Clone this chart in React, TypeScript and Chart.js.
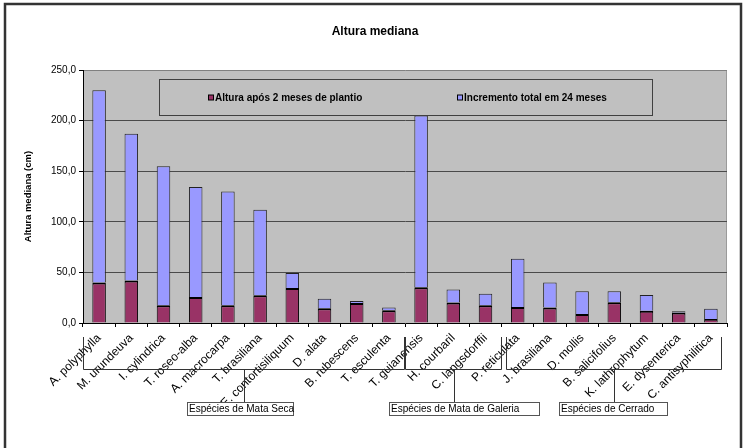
import React, { useEffect, useRef } from "react";
import { Chart, registerables } from "chart.js";

Chart.register(...registerables);

const TITLE = "Altura mediana";
const Y_TITLE = "Altura mediana (cm)";

const categories = [
  "A. polyphylla",
  "M. urundeuva",
  "I. cylindrica",
  "T. roseo-alba",
  "A. macrocarpa",
  "T. brasiliana",
  "E. contortisiliquum",
  "D. alata",
  "B. rubescens",
  "T. esculenta",
  "T. guianensis",
  "H. courbaril",
  "C. langsdorffii",
  "P. reticulata",
  "J. brasiliana",
  "D. mollis",
  "B. salicifolius",
  "K. lathrophytum",
  "E. dysenterica",
  "C. antisyphilitica",
];

const alturaInicial = [40, 42, 17.5, 25.7, 17.5, 27.4, 34.6, 14.5, 19.8, 12.6, 35.3, 20.2, 17.5, 15.9, 15.2, 8.9, 20.5, 12.2, 10.3, 4];
const incremento = [190, 145, 137.5, 108.8, 112.5, 84.6, 14.9, 9.5, 2, 2.6, 169.7, 12.8, 11.5, 47.7, 24.8, 22.5, 10.9, 15.5, 1.3, 10];

const seriesNames = ["Altura após 2 meses de plantio", "Incremento total em 24 meses"];
const yMin = 0;
const yMax = 250;
const yStep = 50;

const groupNames = ["Espécies de Mata Seca", "Espécies de Mata de Galeria", "Espécies de Cerrado"];
const groupFirst = [0, 10, 13];
const groupLast = [9, 12, 19];

const FONT = 'Arial, "Liberation Sans", sans-serif';
const RED = "#993366";
const BLUE = "#9999FF";
const GROUP_BOX_W = [106, 150, 108];
const GROUP_BOX_OFF = [58, 66, 56];

const plotBg = {
  id: "plotBg",
  beforeDraw(chart: any) {
    const { ctx, chartArea: a } = chart;
    ctx.save();
    ctx.fillStyle = "#ffffff";
    ctx.fillRect(0, 0, chart.width, chart.height);
    ctx.fillStyle = "#C0C0C0";
    ctx.fillRect(a.left, a.top, a.right - a.left, a.bottom - a.top);
    ctx.strokeStyle = "#9a9a9a";
    ctx.lineWidth = 1;
    ctx.beginPath();
    ctx.moveTo(a.right - 0.5, a.top);
    ctx.lineTo(a.right - 0.5, a.bottom);
    ctx.stroke();
    ctx.restore();
  },
};

const customDecor = {
  id: "customDecor",
  afterDatasetsDraw(chart: any) {
    const { ctx, chartArea: a } = chart;
    ctx.save();
    // legend box inside plot
    const bx = a.left + 76.5;
    const by = a.top + 9.5;
    const bw = 493;
    const bh = 36;
    ctx.fillStyle = "#C0C0C0";
    ctx.fillRect(bx, by, bw, bh);
    ctx.strokeStyle = "#404040";
    ctx.lineWidth = 1;
    ctx.strokeRect(bx, by, bw, bh);
    const items = [
      { mx: a.left + 125, tx: a.left + 132 },
      { mx: a.left + 374, tx: a.left + 381 },
    ];
    const cy = by + bh / 2;
    ctx.font = "bold 10px " + FONT;
    ctx.textBaseline = "middle";
    ctx.textAlign = "left";
    chart.data.datasets.forEach((ds: any, i: number) => {
      const it = items[i];
      ctx.fillStyle = ds.backgroundColor;
      ctx.fillRect(it.mx, cy - 2.5, 5, 5);
      ctx.strokeStyle = "#000";
      ctx.strokeRect(it.mx + 0.5, cy - 2.5, 5, 5);
      ctx.fillStyle = "#000";
      ctx.fillText(ds.label, it.tx, cy + 0.5);
    });
    ctx.restore();
  },
  afterDraw(chart: any) {
    const { ctx, chartArea: a, scales } = chart;
    const xs = scales.x;
    ctx.save();
    // title
    ctx.fillStyle = "#000";
    ctx.font = "bold 12px " + FONT;
    ctx.textAlign = "center";
    ctx.textBaseline = "middle";
    ctx.fillText(TITLE, 375, 32);

    // group brackets
    const half = (xs.getPixelForValue(1) - xs.getPixelForValue(0)) / 2;
    const yTop = a.bottom + 14;
    const yH = a.bottom + 46;
    const yBox = a.bottom + 79.5;
    ctx.lineWidth = 1;
    ctx.strokeStyle = "#333";
    ctx.font = "10px " + FONT;
    groupNames.forEach((name, g) => {
      let L = xs.getPixelForValue(groupFirst[g]) - half;
      let R = xs.getPixelForValue(groupLast[g]) + half;
      if (g === 2) {
        L += 4;
        R -= 5;
      }
      L = Math.round(L) + 0.5;
      R = Math.round(R) - 0.5;
      ctx.beginPath();
      ctx.moveTo(L, yTop);
      ctx.lineTo(L, yH + 0.5);
      ctx.lineTo(R, yH + 0.5);
      ctx.lineTo(R, yTop);
      ctx.stroke();
      const c = Math.round((L + R) / 2) + 0.5;
      ctx.beginPath();
      ctx.moveTo(c, yH);
      ctx.lineTo(c, yBox);
      ctx.stroke();
      const w = GROUP_BOX_W[g];
      const bx = Math.round(c - GROUP_BOX_OFF[g]) + 0.5;
      ctx.fillStyle = "#fff";
      ctx.fillRect(bx, yBox, w, 13);
      ctx.strokeStyle = "#555";
      ctx.strokeRect(bx, yBox, w, 13);
      ctx.strokeStyle = "#333";
      ctx.fillStyle = "#000";
      ctx.textAlign = "left";
      ctx.textBaseline = "middle";
      ctx.fillText(name, bx + 1.5, yBox + 7);
    });

    // outer frame
    ctx.strokeStyle = "#333";
    ctx.lineWidth = 2.5;
    ctx.beginPath();
    ctx.moveTo(5, chart.height);
    ctx.lineTo(5, 4);
    ctx.lineTo(741, 4);
    ctx.lineTo(741, chart.height);
    ctx.stroke();
    ctx.restore();
  },
};

export default function App() {
  const ref = useRef<HTMLCanvasElement | null>(null);

  useEffect(() => {
    if (!ref.current) return;
    const chart = new Chart(ref.current, {
      type: "bar",
      data: {
        labels: categories,
        datasets: [
          {
            label: seriesNames[0],
            data: alturaInicial,
            backgroundColor: RED,
            borderColor: "#000",
            borderWidth: { top: 2, left: 1, right: 1, bottom: 0 },
            borderSkipped: false,
            categoryPercentage: 1,
            barPercentage: 0.42,
          },
          {
            label: seriesNames[1],
            data: incremento,
            backgroundColor: BLUE,
            borderColor: "#222",
            borderWidth: { top: 1, left: 1, right: 1, bottom: 0 },
            borderSkipped: false,
            categoryPercentage: 1,
            barPercentage: 0.42,
          },
        ],
      },
      options: {
        responsive: false,
        animation: false,
        layout: { padding: { top: 70, right: 18, left: 0, bottom: 0 } },
        plugins: {
          legend: { display: false },
          title: { display: false },
          tooltip: { enabled: false },
        },
        scales: {
          x: {
            stacked: true,
            afterFit: (s: any) => {
              s.height = 125;
            },
            grid: {
              display: true,
              drawOnChartArea: false,
              drawTicks: true,
              tickLength: 4,
              color: "#000",
              tickColor: "#000",
              offset: true,
            },
            border: { display: true, color: "#000", width: 1 },
            ticks: {
              autoSkip: false,
              maxRotation: 45,
              minRotation: 45,
              padding: 4,
              color: "#000",
              font: { family: FONT, size: 12 },
            },
          },
          y: {
            stacked: true,
            min: yMin,
            max: yMax,
            afterFit: (s: any) => {
              s.width = 83;
            },
            grid: {
              color: (c: any) =>
                c.tick && c.tick.value === yMax ? "#808080" : c.tick && c.tick.value === yMin ? "rgba(0,0,0,0)" : "#4a4a4a",
              tickColor: "#000",
              tickLength: 4,
              lineWidth: 1,
            },
            border: { display: true, color: "#000", width: 1 },
            ticks: {
              stepSize: yStep,
              padding: 3,
              color: "#000",
              font: { family: FONT, size: 10 },
              callback: (v: any) => Number(v).toFixed(1).replace(".", ","),
            },
            title: {
              display: true,
              text: Y_TITLE,
              color: "#000",
              font: { family: FONT, size: 9.5, weight: "bold" },
              padding: { top: 23, bottom: 0 },
            },
          },
        },
      },
      plugins: [plotBg, customDecor],
    });
    return () => chart.destroy();
  }, []);

  return (
    <div style={{ position: "fixed", left: 0, top: 0, width: 745, height: 448, background: "#fff" }}>
      <canvas ref={ref} width={745} height={448} style={{ display: "block", width: 745, height: 448 }} />
    </div>
  );
}
